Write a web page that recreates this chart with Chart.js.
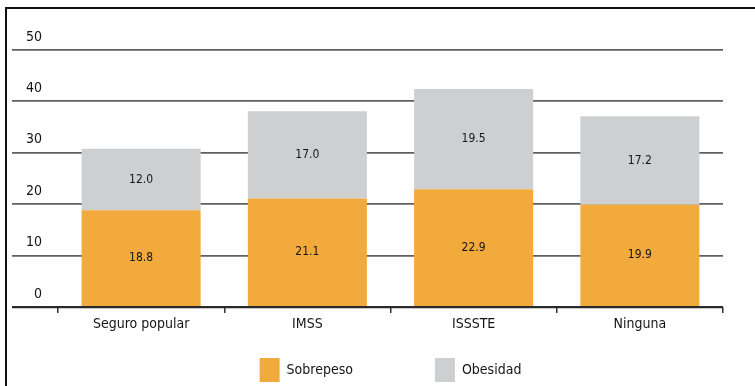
<!DOCTYPE html>
<html>
<head>
<meta charset="utf-8">
<script src="https://cdn.jsdelivr.net/npm/chart.js@4/dist/chart.umd.min.js"></script>
<style>
html, body { margin: 0; padding: 0; background: #fff; overflow: hidden; }
#wrap { position: relative; width: 755px; height: 386px; }
#c { position: absolute; left: 0; top: 0; }
#frame { position: absolute; left: 5px; top: 7px; width: 800px; height: 500px;
  border-top: 2px solid #111; border-left: 2px solid #111; pointer-events: none; }
</style>
</head>
<body>
<div id="wrap"><canvas id="c" width="755" height="386"></canvas><div id="frame"></div></div>
<script>
const categories = ['Seguro popular', 'IMSS', 'ISSSTE', 'Ninguna'];
const sobrepeso = [18.8, 21.1, 22.9, 19.9];
const obesidad = [12.0, 17.0, 19.5, 17.2];
const seriesNames = ['Sobrepeso', 'Obesidad'];
const yTicks = [0, 10, 20, 30, 40, 50];

const FONT = "'DejaVu Sans Condensed', 'Liberation Sans Narrow', sans-serif";
const ORANGE = '#F2AA3D';
const GREY = '#CDCFD1';
const TEXT = '#151515';

const barLabels = {
  id: 'barLabels',
  afterDatasetsDraw(chart) {
    const ctx = chart.ctx;
    ctx.save();
    ctx.font = '12px ' + FONT;
    ctx.fillStyle = TEXT;
    ctx.textAlign = 'center';
    ctx.textBaseline = 'middle';
    chart.data.datasets.forEach((ds, di) => {
      const meta = chart.getDatasetMeta(di);
      meta.data.forEach((el, i) => {
        const p = el.getProps(['x', 'y', 'base'], true);
        ctx.fillText(ds.data[i].toFixed(1), p.x, (p.y + p.base) / 2);
      });
    });
    ctx.restore();
  }
};

new Chart(document.getElementById('c'), {
  type: 'bar',
  data: {
    labels: categories,
    datasets: [
      { label: seriesNames[0], data: sobrepeso, backgroundColor: ORANGE, borderWidth: 0 },
      { label: seriesNames[1], data: obesidad, backgroundColor: GREY, borderWidth: 0 }
    ]
  },
  options: {
    responsive: false,
    animation: false,
    devicePixelRatio: 1,
    layout: { padding: { left: 58, right: 32, top: 50, bottom: 0 } },
    datasets: { bar: { categoryPercentage: 0.716, barPercentage: 1 } },
    scales: {
      x: {
        stacked: true,
        offset: true,
        grid: { display: true, drawOnChartArea: false, drawTicks: true, tickLength: 6,
                color: '#333', lineWidth: 1.5, offset: true },
        border: { display: false },
        ticks: { font: { family: FONT, size: 14 }, color: TEXT, padding: 3 },
        afterFit(s) { s.height = 41; }
      },
      y: {
        stacked: true,
        min: 0, max: 50,
        afterBuildTicks(s) { s.ticks = yTicks.map(v => ({ value: v })); },
        ticks: { font: { family: FONT, size: 14 }, color: TEXT, mirror: true,
                 crossAlign: 'far', padding: -32, labelOffset: -13 },
        grid: {
          drawTicks: true, tickLength: 46,
          color: c => c.tick && c.tick.value === 0 ? '#2a2a2a' : '#606060',
          lineWidth: c => c.tick && c.tick.value === 0 ? 2.2 : 1.8
        },
        border: { display: false },
        afterFit(s) { s.width = 0; }
      }
    },
    plugins: {
      tooltip: { enabled: false },
      legend: {
        position: 'bottom',
        maxHeight: 38,
        labels: {
          boxWidth: 20, boxHeight: 24, padding: 10,
          font: { family: FONT, size: 14 }, color: TEXT,
          generateLabels(chart) {
            const items = Chart.defaults.plugins.legend.labels.generateLabels(chart);
            items.forEach((it, i) => {
              it.lineWidth = 0;
              if (i === 0) it.text = it.text + ' '.repeat(18);
            });
            return items;
          }
        }
      }
    }
  },
  plugins: [barLabels]
});
</script>
</body>
</html>
